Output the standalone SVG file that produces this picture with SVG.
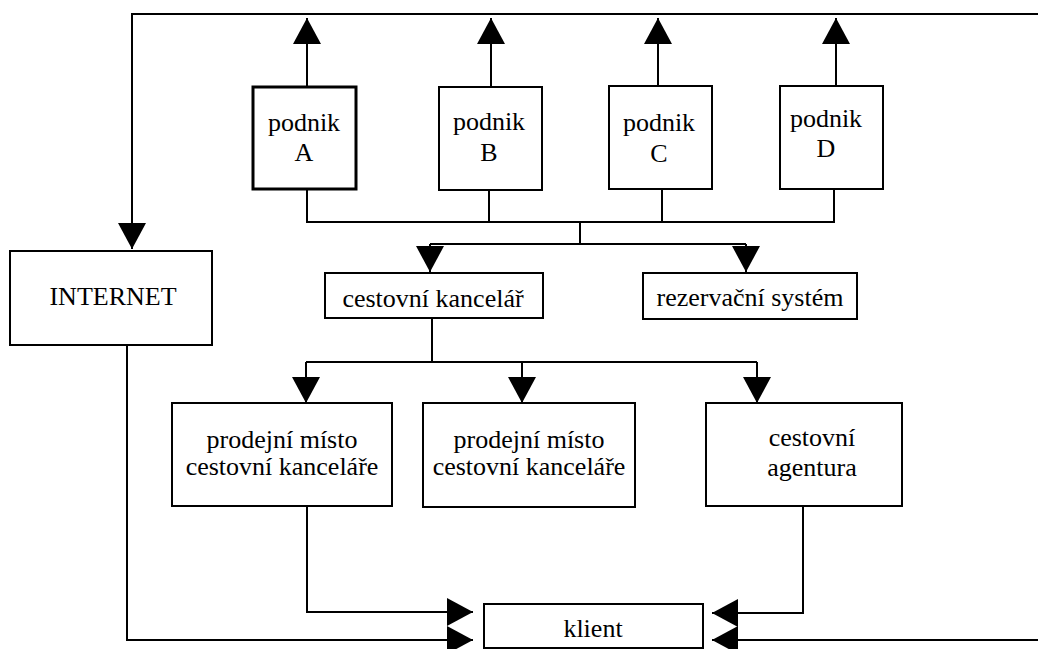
<svg xmlns="http://www.w3.org/2000/svg" width="1038" height="649" viewBox="0 0 1038 649">
<style>
.box{fill:#fff;stroke:#000;stroke-width:2}
.thick{stroke-width:3}
.t{font-family:"Liberation Serif","Times New Roman",serif;font-size:26px;fill:#000;text-anchor:middle}
.c{fill:none;stroke:#000;stroke-width:2}
.a{marker-end:url(#ah)}
</style>
<defs>
<marker id="ah" markerUnits="userSpaceOnUse" markerWidth="27" markerHeight="28" refX="26" refY="14" orient="auto">
<path d="M0,0 L26,14 L0,28 Z" fill="#000"/>
</marker>
</defs>
<rect width="1038" height="649" fill="#fff"/>
<g id="connectors">
<path class="c a" d="M1038,14 H132 V249"/>
<path class="c a" d="M1038,640 H712"/>
<path class="c a" d="M307,87 V18"/>
<path class="c a" d="M491,87 V18"/>
<path class="c a" d="M658,86 V18"/>
<path class="c a" d="M836,86 V18"/>
<path class="c" d="M307,189 V222 H834 V189"/>
<path class="c" d="M489,190 V222"/>
<path class="c" d="M662,189 V222"/>
<path class="c" d="M580,222 V244"/>
<path class="c" d="M430,244 H746"/>
<path class="c a" d="M430,244 V272"/>
<path class="c a" d="M746,244 V272"/>
<path class="c" d="M432,318 V362"/>
<path class="c" d="M306,362 H757"/>
<path class="c a" d="M306,362 V403"/>
<path class="c a" d="M522,362 V403"/>
<path class="c a" d="M757,362 V403"/>
<path class="c a" d="M307,506 V612 H473"/>
<path class="c a" d="M127,345 V640 H473"/>
<path class="c a" d="M803,506 V613 H712"/>
</g>
<g id="podnikA"><rect class="box thick" x="253" y="87" width="103" height="102"/><text class="t" x="304" y="131">podnik</text><text class="t" x="304" y="161">A</text></g>
<g id="podnikB"><rect class="box" x="439" y="87" width="103" height="103"/><text class="t" x="489" y="130">podnik</text><text class="t" x="489" y="161">B</text></g>
<g id="podnikC"><rect class="box" x="609" y="86" width="103" height="103"/><text class="t" x="659" y="131">podnik</text><text class="t" x="659" y="162">C</text></g>
<g id="podnikD"><rect class="box" x="780" y="86" width="103" height="103"/><text class="t" x="826" y="127">podnik</text><text class="t" x="826" y="157">D</text></g>
<g id="internet"><rect class="box" x="10" y="251" width="202" height="94"/><text class="t" x="113" y="305">INTERNET</text></g>
<g id="cestovni-kancelar"><rect class="box" x="325" y="273" width="218" height="45"/><text class="t" x="433" y="307">cestovní kancelář</text></g>
<g id="rezervacni-system"><rect class="box" x="643" y="273" width="214" height="46"/><text class="t" x="750" y="306">rezervační systém</text></g>
<g id="prodejni1"><rect class="box" x="172" y="403" width="220" height="103"/><text class="t" x="282" y="448">prodejní místo</text><text class="t" x="282" y="475">cestovní kanceláře</text></g>
<g id="prodejni2"><rect class="box" x="423" y="403" width="212" height="104"/><text class="t" x="529" y="448">prodejní místo</text><text class="t" x="529" y="475">cestovní kanceláře</text></g>
<g id="agentura"><rect class="box" x="706" y="403" width="196" height="103"/><text class="t" x="812" y="446">cestovní</text><text class="t" x="812" y="476">agentura</text></g>
<g id="klient"><rect class="box" x="484" y="604" width="219" height="44"/><text class="t" x="593" y="637">klient</text></g>
</svg>
